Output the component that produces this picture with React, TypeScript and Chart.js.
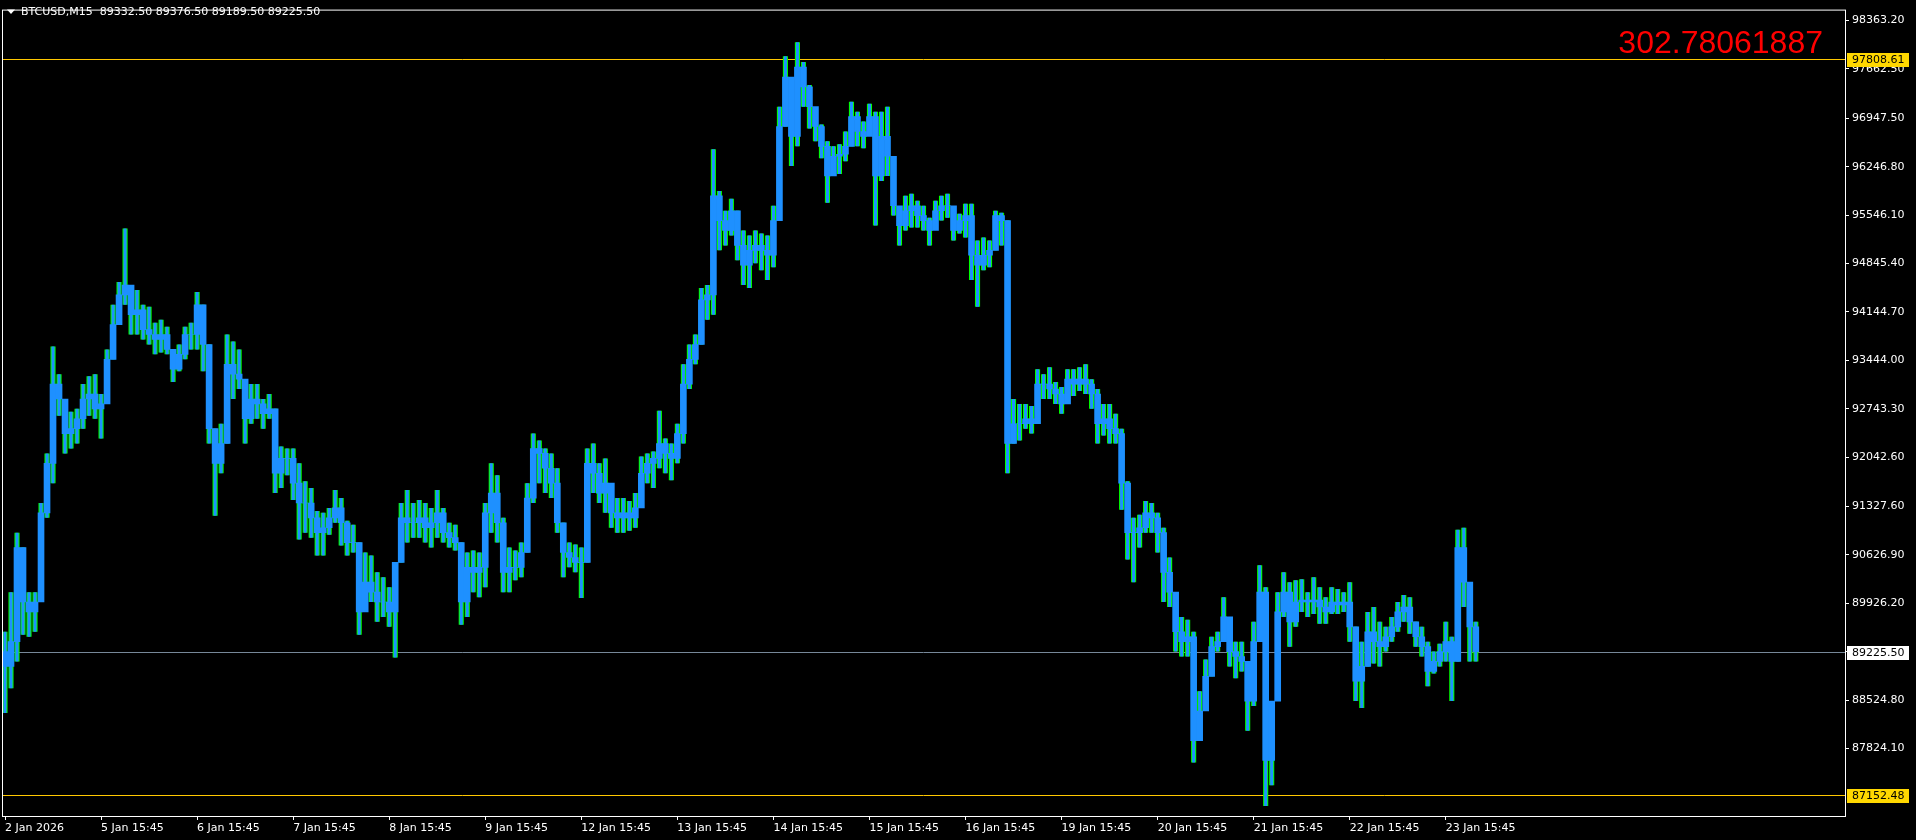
import React, { useEffect, useRef } from 'react';
import { Chart, registerables } from 'chart.js';

Chart.register(...registerables);

// ---- chart text ----
const SYMBOL = 'BTCUSD,M15';
const LAST_BAR_OHLC = [89332.5, 89376.5, 89189.5, 89225.5];
const INFO_VALUE = '302.78061887';

// ---- x axis: one label per trading day (16 samples per day) ----
const DAY_LABELS = [
  '2 Jan 2026', '5 Jan 15:45', '6 Jan 15:45', '7 Jan 15:45', '8 Jan 15:45', '9 Jan 15:45',
  '12 Jan 15:45', '13 Jan 15:45', '14 Jan 15:45', '15 Jan 15:45', '16 Jan 15:45',
  '19 Jan 15:45', '20 Jan 15:45', '21 Jan 15:45', '22 Jan 15:45', '23 Jan 15:45',
];
const SAMPLES_PER_DAY = 16;
const SLOTS = 307;

// ---- y axis ----
const Y_MIN = 86848;
const Y_MAX = 98520;
const Y_TICKS = [
  98363.2, 97662.5, 96947.5, 96246.8, 95546.1, 94845.4, 94144.7, 93444.0,
  92743.3, 92042.6, 91327.6, 90626.9, 89926.2, 89225.5, 88524.8, 87824.1,
];

// ---- levels ----
const LEVEL_TOP = 97808.61;
const LEVEL_BOTTOM = 87152.48;
const BID = 89225.5;

// ---- price samples (each = 6 M15 bars) ----
const FIRST_OPEN = 89228;
const HIGH = [
  89515, 90088, 90949, 90733, 90088, 90088, 91379, 92096, 93644, 93243, 92884, 92698, 92741, 93100, 93214, 93243,
  92956, 93601, 94247, 94577, 95351, 94534, 94462, 94247, 94218, 93989, 94032, 93931, 93601, 93673, 93931, 93989,
  94434, 94247, 93673, 92454, 92526, 93817, 93717, 93601, 93028, 93100, 93100, 92884, 92956, 92741, 92196, 92167,
  92167, 91953, 91694, 91594, 91264, 91236, 91307, 91566, 91450, 91121, 91063, 90805, 90662, 90619, 90375, 90303,
  90160, 90519, 91379, 91566, 91379, 91422, 91379, 91307, 91566, 91307, 91092, 91063, 90805, 90662, 90690, 90662,
  91379, 91953, 91780, 91164, 90733, 90690, 90805, 91666, 92383, 92283, 92167, 92096, 91881, 91092, 90805, 90776,
  90733, 92167, 92239, 91953, 92024, 91522, 91450, 91450, 91407, 91522, 92053, 92096, 92124, 92713, 92311, 92239,
  92526, 93387, 93673, 93817, 94491, 94534, 96498, 95896, 95609, 95781, 95609, 95322, 95251, 95322, 95279, 95251,
  95681, 97115, 97846, 97545, 98047, 97760, 97430, 97043, 96857, 96613, 96541, 96570, 96756, 97186, 97043, 96900,
  97158, 97043, 97043, 97115, 96398, 95609, 95824, 95853, 95752, 95681, 95509, 95752, 95824, 95853, 95538, 95566,
  95709, 95709, 95179, 95222, 95179, 95609, 95581, 95466, 92884, 92813, 92813, 92784, 93315, 93243, 93344, 93128,
  93057, 93315, 93315, 93344, 93387, 93171, 93028, 92813, 92813, 92670, 92454, 91694, 91164, 91207, 91407, 91379,
  91236, 91020, 90590, 90088, 89730, 89687, 89515, 88654, 89113, 89443, 89515, 90016, 89730, 89371, 89371, 89085,
  89658, 90476, 90160, 88511, 90088, 90375, 90232, 90260, 90275, 90088, 90303, 90160, 90016, 90160, 90132, 90088,
  90232, 89586, 89371, 89802, 89873, 89658, 89586, 89730, 89945, 90045, 90016, 89658, 89586, 89371, 89228, 89342,
  89658, 89443, 90992, 91020, 90232, 89658,
];
const LOW = [
  88339, 88698, 89085, 89472, 89443, 89515, 89945, 91164, 91666, 92641, 92096, 92167, 92239, 92454, 92641, 92598,
  92311, 92813, 93458, 93960, 94247, 93817, 93817, 93745, 93673, 93530, 93558, 93530, 93128, 93287, 93458, 93601,
  93601, 93287, 92239, 91193, 91809, 92239, 92884, 93028, 92239, 92526, 92598, 92454, 92598, 91522, 91594, 91780,
  91422, 90849, 90949, 90877, 90619, 90619, 90920, 91092, 90762, 90619, 90662, 89472, 89802, 89945, 89658, 89730,
  89586, 89142, 90519, 90805, 90877, 90877, 90805, 90733, 90877, 90805, 90733, 90690, 89615, 89730, 90088, 90016,
  90160, 90949, 90805, 90088, 90088, 90260, 90303, 90662, 91379, 91666, 91522, 91450, 90949, 90303, 90447, 90375,
  90002, 90519, 91522, 91379, 91236, 91020, 90949, 90949, 90977, 91020, 91307, 91666, 91594, 91881, 91809, 91709,
  91953, 92239, 93028, 93387, 93673, 94032, 94104, 95035, 95107, 95251, 94892, 94534, 94491, 94849, 94749, 94605,
  94792, 95466, 96828, 96255, 96541, 97115, 96799, 96613, 96369, 95724, 96111, 96140, 96326, 96541, 96541, 96512,
  96713, 95394, 96039, 96111, 95538, 95107, 95322, 95365, 95365, 95322, 95107, 95394, 95466, 95509, 95179, 95279,
  95222, 94605, 94218, 94749, 94792, 95035, 95107, 91809, 92239, 92283, 92454, 92383, 92526, 92884, 92884, 92813,
  92670, 92956, 92927, 93000, 92956, 92741, 92239, 92354, 92239, 92239, 91279, 90562, 90232, 90733, 90949, 90949,
  90662, 89945, 89873, 89228, 89156, 89156, 87622, 87937, 88368, 88869, 89228, 89371, 89013, 88841, 88941, 88081,
  88439, 89371, 86991, 87292, 88511, 89730, 89299, 89586, 89802, 89730, 89773, 89629, 89629, 89773, 89773, 89802,
  89371, 88511, 88411, 89013, 89056, 89013, 89228, 89371, 89515, 89658, 89486, 89299, 89156, 88726, 88912, 89013,
  89085, 88511, 89085, 89873, 89085, 89085,
];
const CLOSE = [
  89013, 89371, 90733, 89945, 89802, 89945, 91236, 91953, 93100, 92884, 92383, 92454, 92598, 92884, 92956, 92741,
  92813, 93458, 93960, 94390, 94534, 94104, 94175, 93888, 93817, 93745, 93817, 93601, 93315, 93530, 93817, 93817,
  94247, 93673, 92454, 91953, 92239, 93387, 93243, 93171, 92598, 92884, 92813, 92670, 92741, 91809, 92024, 92024,
  91666, 91379, 91379, 91164, 90949, 91020, 91164, 91307, 91092, 90805, 90805, 89802, 90232, 90088, 89945, 89945,
  89802, 90519, 91164, 91092, 91092, 91164, 91020, 91092, 91236, 90949, 90877, 90805, 89945, 90447, 90375, 90447,
  91236, 91522, 91092, 90375, 90447, 90447, 90662, 91450, 92167, 92096, 91881, 91666, 91092, 90662, 90590, 90519,
  90519, 91953, 91809, 91522, 91666, 91236, 91164, 91236, 91164, 91307, 91809, 91953, 92024, 92239, 92096, 92024,
  92383, 93100, 93458, 93673, 94318, 94390, 95824, 95466, 95322, 95609, 95107, 94821, 95035, 95107, 95035, 94964,
  95466, 96828, 97545, 96685, 97689, 97402, 97115, 96828, 96541, 96111, 96398, 96426, 96541, 96972, 96756, 96685,
  96972, 96111, 96685, 96398, 95681, 95394, 95609, 95681, 95538, 95466, 95322, 95609, 95681, 95681, 95322, 95466,
  95538, 94964, 94821, 94964, 95035, 95538, 95466, 92239, 92526, 92526, 92598, 92526, 93100, 93100, 93028, 92956,
  92813, 93171, 93100, 93171, 93100, 92956, 92526, 92598, 92454, 92383, 91666, 90949, 90949, 91020, 91236, 91164,
  90949, 90375, 90088, 89515, 89371, 89443, 87937, 88368, 88869, 89299, 89371, 89730, 89228, 89156, 89085, 88511,
  89371, 90088, 87651, 88511, 89802, 90088, 89658, 89945, 89973, 89945, 89973, 89873, 89802, 89945, 89902, 89945,
  89586, 88798, 89013, 89515, 89371, 89299, 89443, 89586, 89802, 89873, 89658, 89443, 89299, 88941, 89085, 89228,
  89371, 89085, 90733, 90232, 89586, 89225.5,
];

// ---- styles ----
const BLUE = '#1E90FF';
const GREEN = '#00FF00';
const GOLD = '#FFC800';
const BOX_GOLD = '#FFD700';
const BID_LINE = '#778899';
const FONT = '"DejaVu Sans", sans-serif';

const overlayPlugin = {
  id: 'mtOverlay',
  beforeDatasetsDraw(chart: any) {
    const { ctx, chartArea: a, scales } = chart;
    const y = scales.y;
    ctx.save();
    ctx.lineWidth = 1;
    const hline = (v: number, color: string) => {
      const py = Math.round(y.getPixelForValue(v)) + 0.5;
      ctx.strokeStyle = color;
      ctx.beginPath();
      ctx.moveTo(a.left, py);
      ctx.lineTo(a.right, py);
      ctx.stroke();
    };
    hline(BID, BID_LINE);
    hline(LEVEL_TOP, GOLD);
    hline(LEVEL_BOTTOM, GOLD);
    ctx.restore();
  },
  afterDraw(chart: any) {
    const { ctx, chartArea: a, scales } = chart;
    const y = scales.y;
    ctx.save();
    // frame
    ctx.strokeStyle = '#ffffff';
    ctx.lineWidth = 1;
    ctx.strokeRect(a.left + 0.5, a.top + 0.5, a.right - a.left, a.bottom - a.top);
    // title
    ctx.fillStyle = '#ffffff';
    ctx.beginPath();
    ctx.moveTo(7, 9.5);
    ctx.lineTo(15, 9.5);
    ctx.lineTo(11, 14);
    ctx.closePath();
    ctx.fill();
    ctx.font = '11px ' + FONT;
    ctx.textBaseline = 'middle';
    ctx.textAlign = 'left';
    ctx.fillText(SYMBOL + '  ' + LAST_BAR_OHLC.map((v) => v.toFixed(2)).join(' '), 21, 12);
    // info value
    ctx.fillStyle = '#FF0000';
    ctx.font = '32px "Liberation Sans", Arial, sans-serif';
    ctx.textAlign = 'right';
    ctx.textBaseline = 'alphabetic';
    ctx.fillText(INFO_VALUE, 1823, 53);
    // price boxes
    const box = (v: number, bg: string) => {
      const py = Math.round(y.getPixelForValue(v));
      ctx.fillStyle = bg;
      ctx.fillRect(a.right + 2, py - 6, 62, 14);
      ctx.fillStyle = '#000000';
      ctx.font = '11px ' + FONT;
      ctx.textAlign = 'left';
      ctx.textBaseline = 'middle';
      ctx.fillText(v.toFixed(2), a.right + 7, py + 1);
    };
    box(LEVEL_TOP, BOX_GOLD);
    box(BID, '#FFFFFF');
    box(LEVEL_BOTTOM, BOX_GOLD);
    ctx.restore();
  },
};

export default function App() {
  const ref = useRef<HTMLCanvasElement>(null);

  useEffect(() => {
    document.body.style.margin = '0';
    document.body.style.background = '#000';
    const canvas = ref.current!;
    const labels = Array.from({ length: SLOTS }, (_, i) =>
      i % SAMPLES_PER_DAY === 0 && i / SAMPLES_PER_DAY < DAY_LABELS.length ? DAY_LABELS[i / SAMPLES_PER_DAY] : ''
    );
    const ranges = HIGH.map((h, i) => [LOW[i], h]);
    const bodies = CLOSE.map((c, i) => [i === 0 ? FIRST_OPEN : CLOSE[i - 1], c]);

    const chart = new Chart(canvas, {
      type: 'bar',
      data: {
        labels,
        datasets: [
          {
            label: 'body',
            data: bodies as any,
            backgroundColor: BLUE,
            borderWidth: 0,
            grouped: false,
            barPercentage: 1,
            categoryPercentage: 1,
            order: 0,
          },
          {
            label: 'range core',
            data: ranges as any,
            backgroundColor: BLUE,
            borderWidth: 0,
            grouped: false,
            barPercentage: 0.5,
            categoryPercentage: 1,
            order: 1,
          },
          {
            label: 'range',
            data: ranges as any,
            backgroundColor: GREEN,
            borderWidth: 0,
            grouped: false,
            barPercentage: 0.85,
            categoryPercentage: 1,
            order: 2,
          },
        ],
      },
      options: {
        animation: false,
        responsive: false,
        devicePixelRatio: 1,
        events: [],
        layout: { padding: { left: 2, top: 2, right: 0, bottom: 0 } },
        plugins: { legend: { display: false }, tooltip: { enabled: false }, title: { display: false } },
        scales: {
          x: {
            type: 'category',
            offset: true,
            afterBuildTicks: (s: any) => {
              s.ticks = s.ticks.filter((t: any) => labels[t.value] !== '');
            },
            afterFit: (s: any) => {
              s.height = 24;
            },
            ticks: {
              color: '#ffffff',
              font: { family: FONT, size: 11 },
              padding: 2,
              autoSkip: false,
              maxRotation: 0,
              minRotation: 0,
              align: 'start',
            },
            grid: { offset: false, drawOnChartArea: false, drawTicks: true, tickLength: 4, tickColor: '#ffffff', color: '#ffffff' },
            border: { display: false },
          },
          y: {
            type: 'linear',
            position: 'right',
            min: Y_MIN,
            max: Y_MAX,
            afterBuildTicks: (s: any) => {
              s.ticks = Y_TICKS.map((v) => ({ value: v }));
            },
            afterFit: (s: any) => {
              s.width = 71;
            },
            ticks: {
              color: '#ffffff',
              font: { family: FONT, size: 11 },
              padding: 3,
              autoSkip: false,
              callback: (v: any) => Number(v).toFixed(2),
            },
            grid: { drawOnChartArea: false, drawTicks: true, tickLength: 4, tickColor: '#ffffff', color: '#ffffff' },
            border: { display: false },
          },
        },
      } as any,
      plugins: [overlayPlugin],
    });
    return () => chart.destroy();
  }, []);

  return (
    <div style={{ position: 'fixed', left: 0, top: 0, width: 1916, height: 840, background: '#000' }}>
      <canvas ref={ref} width={1916} height={840} style={{ display: 'block', width: 1916, height: 840 }} />
    </div>
  );
}
